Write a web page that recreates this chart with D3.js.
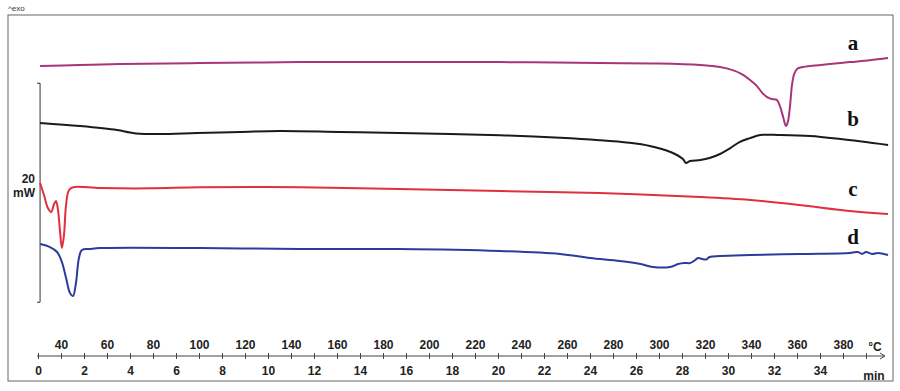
<!DOCTYPE html>
<html>
<head>
<meta charset="utf-8">
<script src="https://cdn.jsdelivr.net/npm/d3@7"></script>
<style>
  body { margin: 0; background: #fff; }
  svg { display: block; }
  .axis text { font-family: "Liberation Sans", Arial, sans-serif; font-weight: bold; font-size: 12px; fill: #222; }
  .axis path, .axis line { stroke: #444; }
  .lbl { font-family: "Liberation Serif", "Times New Roman", serif; font-weight: bold; font-size: 21px; fill: #111; }
</style>
</head>
<body>
<svg width="900" height="391"></svg>
<script>
// time (min) vs heat flow (mW, curves stacked with offsets as in the original plot)
const curveA = [
  [0.09, 26.57], [1.8, 26.66], [3.6, 26.75], [7.0, 26.84], [11.4, 26.93], [15.7, 26.93],
  [20.1, 26.93], [24.4, 26.84], [27.0, 26.8], [28.8, 26.66], [29.65, 26.48], [30.2, 26.2],
  [30.6, 25.84], [30.96, 25.3], [31.26, 24.74], [31.5, 24.1], [31.7, 23.74], [31.9, 23.56],
  [32.13, 23.46], [32.26, 22.9], [32.4, 21.9], [32.52, 21.1], [32.6, 21.45], [32.7, 23.0],
  [32.78, 24.8], [32.87, 25.8], [33.0, 26.3], [33.26, 26.48], [33.57, 26.57], [34.43, 26.75],
  [35.3, 26.93], [36.17, 27.1], [36.96, 27.3]
]
const curveB = [
  [0.09, 21.37], [1.83, 21.09], [3.43, 20.73], [4.0, 20.5], [4.43, 20.38], [5.3, 20.36],
  [6.9, 20.45], [8.8, 20.55], [10.5, 20.64], [13.1, 20.55], [15.7, 20.45], [20.1, 20.25],
  [22.7, 20.02], [24.4, 19.8], [25.7, 19.56], [26.6, 19.27], [27.5, 18.72], [28.04, 18.08],
  [28.17, 17.72], [28.35, 17.9], [28.8, 17.99], [29.2, 18.17], [29.65, 18.54], [30.1, 19.08],
  [30.5, 19.63], [30.96, 19.99], [31.4, 20.27], [32.26, 20.27], [33.57, 20.18], [34.9, 19.9],
  [36.96, 19.36]
]
const curveC = [
  [0.09, 15.89], [0.26, 14.79], [0.43, 13.6], [0.57, 13.24], [0.7, 13.97], [0.78, 14.25],
  [0.87, 13.42], [0.96, 11.41], [1.04, 9.95], [1.13, 11.14], [1.22, 13.88], [1.35, 15.25],
  [1.57, 15.52], [2.7, 15.43], [4.87, 15.4], [7.04, 15.5], [11.4, 15.5], [15.7, 15.34],
  [20.1, 15.16], [24.4, 14.97], [28.8, 14.61], [30.96, 14.34], [33.1, 13.88], [35.3, 13.33],
  [36.96, 13.06]
]
const curveD = [
  [0.09, 10.32], [0.52, 10.04], [0.83, 9.59], [1.04, 8.67], [1.22, 7.21], [1.39, 5.84],
  [1.52, 5.57], [1.65, 6.76], [1.78, 9.04], [1.91, 9.77], [2.26, 9.86], [2.7, 9.95],
  [7.04, 9.95], [11.4, 9.86], [15.7, 9.86], [20.1, 9.68], [22.7, 9.41], [24.0, 9.04],
  [25.3, 8.77], [26.2, 8.49], [26.74, 8.22], [27.48, 8.22], [27.83, 8.49], [28.1, 8.58],
  [28.35, 8.58], [28.52, 8.77], [28.7, 9.04], [28.87, 8.95], [29.04, 8.9], [29.2, 9.13],
  [29.65, 9.22], [30.96, 9.31], [33.13, 9.41], [35.3, 9.5], [35.65, 9.59], [35.83, 9.41],
  [36.0, 9.59], [36.26, 9.41], [36.52, 9.5], [36.96, 9.31]
]
const series = [
  { name: 'a', data: curveA, color: '#a8357a', labelY: 28.0 },
  { name: 'b', data: curveB, color: '#1b1b1b', labelY: 21.1 },
  { name: 'c', data: curveC, color: '#e0303f', labelY: 14.7 },
  { name: 'd', data: curveD, color: '#2b3c9c', labelY: 10.3 }
]
const minTicks = d3.range(0, 37, 1)
const minLabels = d3.range(0, 35, 2)
const tempLabels = d3.range(40, 400, 20)
const scaleBar = [5, 25] // 20 mW

const svg = d3.select('svg')
const axisY = 356

const x = d3.scaleLinear().domain([0, 37]).range([38, 889])
const temp = d3.scaleLinear().domain([30, 400]).range([38, 889])
const y = d3.scaleLinear().domain([0, 30]).range([357, 28.5])

const boldText = sel => sel
  .style('font-family', 'Liberation Sans, Arial, sans-serif')
  .style('font-weight', 'bold')
  .style('font-size', '12px')
  .attr('fill', '#222')

// frame
svg.append('rect')
  .attr('x', 8).attr('y', 15).attr('width', 885).attr('height', 366)
  .attr('fill', 'none').attr('stroke', '#666').attr('stroke-width', 1)

svg.append('text')
  .attr('x', 8).attr('y', 11)
  .attr('font-family', 'Liberation Sans, Arial, sans-serif')
  .attr('font-size', 8).attr('fill', '#333')
  .text('^exo')

// scale bar
const sx = x(0.09)
svg.append('path')
  .attr('d', `M${sx - 3},${y(scaleBar[1])}H${sx}V${y(scaleBar[0])}H${sx - 3}`)
  .attr('fill', 'none').attr('stroke', '#333').attr('stroke-width', 1)
svg.append('text').attr('x', 35).attr('y', 183).attr('text-anchor', 'end').call(boldText).text('20')
svg.append('text').attr('x', 35).attr('y', 197).attr('text-anchor', 'end').call(boldText).text('mW')

// bottom axis: minutes below, temperature above
const minAxis = svg.append('g').attr('class', 'axis')
  .attr('transform', `translate(0,${axisY})`)
  .call(d3.axisBottom(x).tickValues(minTicks).tickSize(3).tickPadding(7)
    .tickFormat(d => (minLabels.includes(d) ? d : '')))
minAxis.select('.domain').remove()
minAxis.selectAll('.tick line').attr('y1', -3)

const tempAxis = svg.append('g').attr('class', 'axis')
  .attr('transform', `translate(0,${axisY})`)
  .call(d3.axisTop(temp).tickValues(tempLabels).tickSize(0).tickPadding(7))
tempAxis.select('.domain').remove()

svg.append('line')
  .attr('x1', x(0) - 1).attr('x2', 885).attr('y1', axisY).attr('y2', axisY)
  .attr('stroke', '#444').attr('stroke-width', 1)
svg.append('path')
  .attr('d', `M880,${axisY - 3}L885,${axisY}L880,${axisY + 3}`)
  .attr('fill', 'none').attr('stroke', '#444')

svg.append('text').attr('x', 875).attr('y', 351).attr('text-anchor', 'middle').call(boldText).text('°C')
svg.append('text').attr('x', 874).attr('y', 380).attr('text-anchor', 'middle').call(boldText).text('min')

// curves
const line = d3.line().x(d => x(d[0])).y(d => y(d[1])).curve(d3.curveCatmullRom.alpha(0.5))
svg.append('g').selectAll('path')
  .data(series)
  .enter()
  .append('path')
  .attr('d', s => line(s.data))
  .attr('fill', 'none')
  .attr('stroke', s => s.color)
  .attr('stroke-width', 2)
  .attr('stroke-linejoin', 'round')

svg.append('g').selectAll('text')
  .data(series)
  .enter()
  .append('text')
  .attr('class', 'lbl')
  .attr('x', 853)
  .attr('y', s => y(s.labelY))
  .attr('text-anchor', 'middle')
  .text(s => s.name)
</script>
</body>
</html>
